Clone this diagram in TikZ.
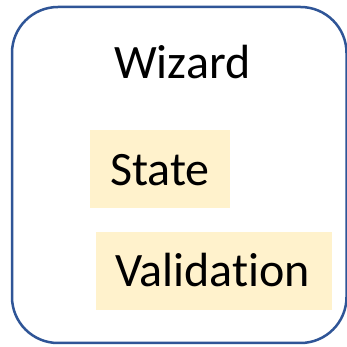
\documentclass[tikz,border=0pt]{standalone}
\usepackage{fontspec}
\setmainfont[Ligatures=NoCommon]{Carlito}
\definecolor{frameblue}{HTML}{2F5597}
\definecolor{paleyellow}{HTML}{FFF2CC}
\begin{document}
\begin{tikzpicture}[x=1pt,y=1pt,
  outerbox/.style={draw=frameblue,line width=2.5pt},
  partbox/.style={fill=paleyellow,draw=none},
  caption/.style={anchor=base west,inner sep=0pt,font=\fontsize{48}{48}\selectfont}]
\useasboundingbox (0,0) rectangle (347,347);
\fill[white] (0,0) rectangle (347,347);
% outer container: rounded outline drawn with explicit corner arcs
\draw[outerbox] (12,50) -- (12,294)
  arc[start angle=180,end angle=90,radius=46] -- (300.5,340)
  arc[start angle=90,end angle=0,radius=46] -- (346.5,50)
  arc[start angle=0,end angle=-90,radius=46] -- (58,4)
  arc[start angle=270,end angle=180,radius=46] -- cycle;
% component boxes
\fill[partbox] (90,139) rectangle (230,217);
\fill[partbox] (96,37) rectangle (332,115);
% labels
\node[caption] (wizard) at (114,268) {Wizard};
\node[caption] (state) at (110,161) {State};
\node[caption] (validation) at (115,60) {Validation};
\end{tikzpicture}
\end{document}
